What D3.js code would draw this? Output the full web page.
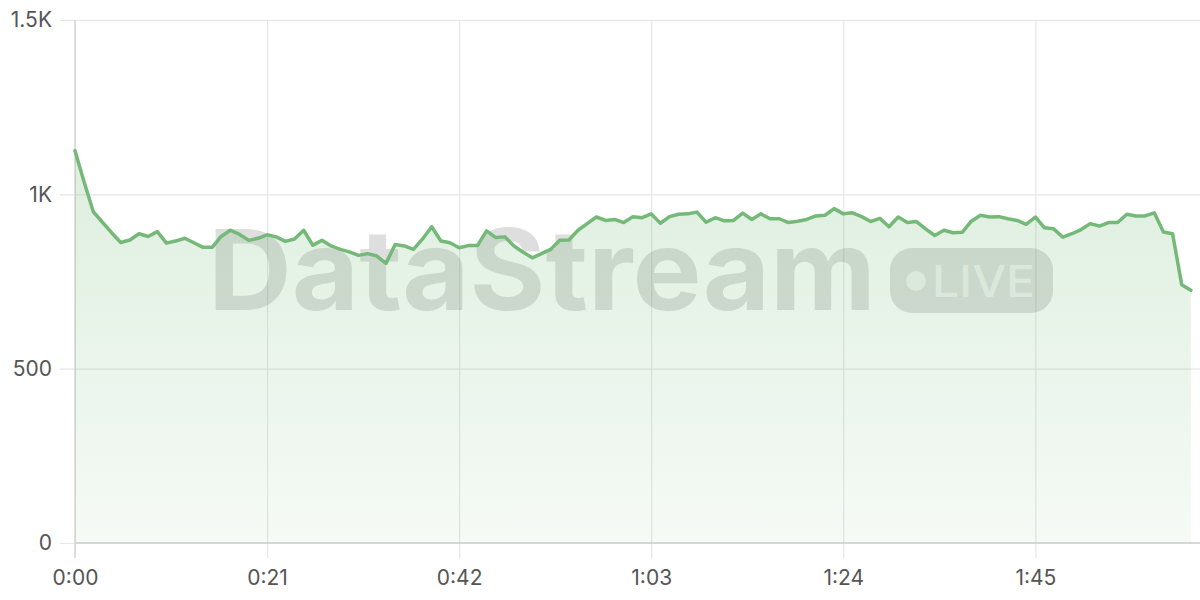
<!DOCTYPE html>
<html>
<head>
<meta charset="utf-8">
<script src="https://cdn.jsdelivr.net/npm/d3@7"></script>
<style>
  html, body { margin: 0; padding: 0; background: #ffffff; }
  svg { display: block; }
</style>
</head>
<body>
<svg id="chart" width="1200" height="600"></svg>
<script>
// ---- data (one value per minute, starting at 0:00) ----
const values = [
  1125, 1035, 950, 920, 890, 862, 869, 887, 879, 893,
  860, 866, 874, 861, 848, 848, 880, 897, 885, 868,
  874, 884, 878, 865, 872, 897, 854, 868, 852, 842,
  835, 825, 830, 823, 802, 856, 852, 842, 872, 907,
  866, 861, 847, 853, 853, 895, 876, 878, 852, 834,
  818, 830, 842, 868, 869, 897, 916, 935, 925, 928,
  919, 936, 933, 944, 917, 936, 943, 944, 949, 920,
  933, 924, 925, 946, 928, 944, 930, 930, 919, 923,
  928, 938, 940, 959, 944, 947, 936, 922, 931, 907,
  935, 919, 922, 901, 882, 897, 890, 891, 923, 940,
  935, 936, 930, 925, 914, 935, 904, 901, 877, 887,
  899, 916, 909, 919, 919, 943, 938, 938, 947, 892,
  887, 741, 725
];
const xTickValues = [0, 21, 42, 63, 84, 105];
const xTickLabels = ["0:00", "0:21", "0:42", "1:03", "1:24", "1:45"];
const yTickValues = [0, 500, 1000, 1500];
const yTickLabels = ["0", "500", "1K", "1.5K"];
const watermarkText = "DataStream";
const badgeText = "LIVE";

const data = values.map((v, i) => ({ t: i, v }));

const svg = d3.select("#chart");
const margin = { left: 75, right: 0, top: 20, bottom: 57 };
const W = 1200, H = 600;

const x = d3.scaleLinear().domain([0, 123]).range([margin.left, W - margin.right]);
const y = d3.scaleLinear().domain([0, 1500]).range([H - margin.bottom, margin.top]);

const fontFamily = "Inter, 'Noto Sans', 'DejaVu Sans', sans-serif";

// gradient
const defs = svg.append("defs");
const grad = defs.append("linearGradient")
  .attr("id", "areaGrad")
  .attr("gradientUnits", "userSpaceOnUse")
  .attr("x1", 0).attr("x2", 0)
  .attr("y1", y(1150)).attr("y2", y(0));
grad.append("stop").attr("offset", 0).attr("stop-color", "rgb(116,185,120)").attr("stop-opacity", 0.24);
grad.append("stop").attr("offset", 1).attr("stop-color", "rgb(116,185,120)").attr("stop-opacity", 0.07);

// grid: horizontal
const yAxis = d3.axisLeft(y).tickValues(yTickValues)
  .tickSize(-(W - margin.left) )
  .tickFormat((d, i) => yTickLabels[i]);
const gy = svg.append("g").attr("transform", `translate(${margin.left},0)`).call(yAxis);
gy.select(".domain").remove();
gy.selectAll(".tick line").attr("stroke", "#e6e6e6").attr("stroke-width", 1.2)
  .attr("x1", -15);
gy.selectAll(".tick text")
  .attr("x", -23)
  .attr("fill", "#555")
  .style("font-family", fontFamily)
  .style("font-size", "21px");

// grid: vertical
const xAxis = d3.axisBottom(x).tickValues(xTickValues)
  .tickSize(0)
  .tickFormat((d, i) => xTickLabels[i]);
const gx = svg.append("g").attr("transform", `translate(0,${y(0)})`).call(xAxis);
gx.select(".domain").remove();
gx.selectAll(".tick line")
  .attr("stroke", "#e6e6e6").attr("stroke-width", 1.2)
  .attr("y1", y(1500) - y(0)).attr("y2", 15);
gx.selectAll(".tick text")
  .attr("y", 27)
  .attr("fill", "#555")
  .style("font-family", fontFamily)
  .style("font-size", "21px");

// axis lines
svg.append("line")
  .attr("x1", x(0)).attr("x2", W)
  .attr("y1", y(0)).attr("y2", y(0))
  .attr("stroke", "#cfcfcf").attr("stroke-width", 1.5);
svg.append("line")
  .attr("x1", x(0)).attr("x2", x(0))
  .attr("y1", y(1500)).attr("y2", y(0) + 15)
  .attr("stroke", "#d6d6d6").attr("stroke-width", 1.5);

// watermark (behind the area)
const wm = svg.append("g").attr("pointer-events", "none");
wm.append("text")
  .attr("x", 208).attr("y", 310)
  .attr("textLength", 668).attr("lengthAdjust", "spacingAndGlyphs")
  .attr("fill", "rgba(70,70,70,0.18)")
  .style("font-family", "Inter, 'Liberation Sans', Arial, sans-serif")
  .style("font-weight", 700)
  .style("font-size", "112px")
  .text(watermarkText);
wm.append("rect")
  .attr("x", 890).attr("y", 248).attr("width", 163).attr("height", 65)
  .attr("rx", 22)
  .attr("fill", "rgba(70,70,70,0.18)");
wm.append("circle")
  .attr("cx", 916).attr("cy", 281).attr("r", 10)
  .attr("fill", "rgba(255,255,255,0.6)");
wm.append("text")
  .attr("x", 932).attr("y", 297)
  .attr("textLength", 103).attr("lengthAdjust", "spacingAndGlyphs")
  .attr("fill", "rgba(255,255,255,0.6)")
  .style("font-family", "Inter, 'Liberation Sans', Arial, sans-serif")
  .style("font-weight", 500)
  .style("font-size", "44px")
  .text(badgeText);

// area
const area = d3.area().x(d => x(d.t)).y0(y(0)).y1(d => y(d.v));
svg.append("path").datum(data).attr("d", area).attr("fill", "url(#areaGrad)");

// line
const line = d3.line().x(d => x(d.t)).y(d => y(d.v));
svg.append("path").datum(data).attr("d", line)
  .attr("fill", "none")
  .attr("stroke", "#74b978")
  .attr("stroke-width", 3.5)
  .attr("stroke-linejoin", "round")
  .attr("stroke-linecap", "round");
</script>
</body>
</html>
